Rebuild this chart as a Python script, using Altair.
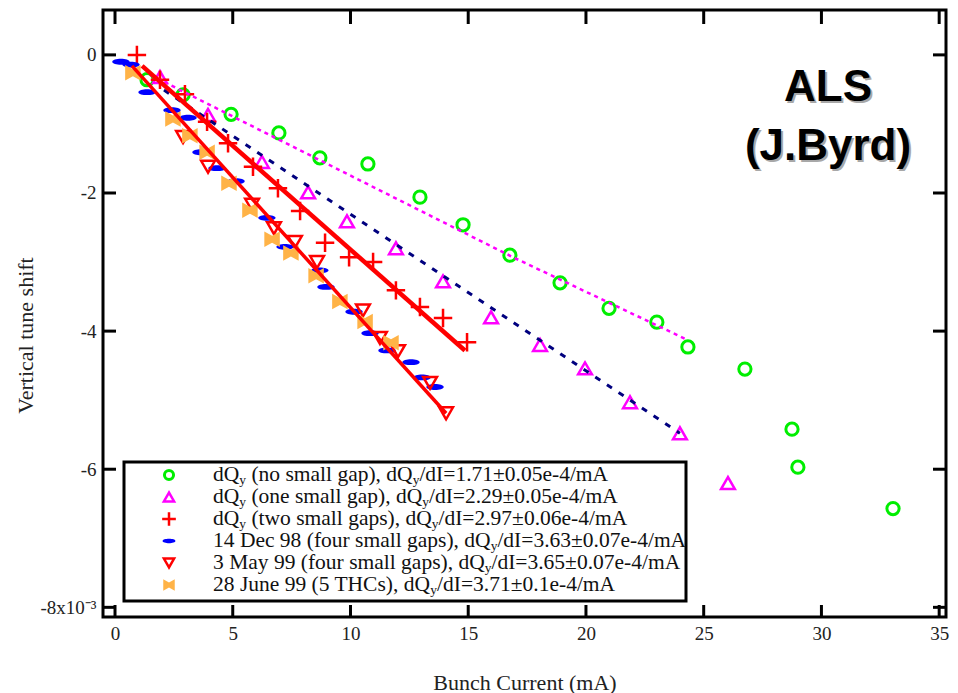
import altair as alt
import pandas as pd

# ---------------- data (x: bunch current mA, y: tune shift in 1e-3) ----------------
green_x = [1.36, 2.89, 4.93, 6.96, 8.70, 10.74, 12.95, 14.78, 16.77, 18.90, 20.98, 23.01, 24.33, 26.75, 28.75, 29.00, 33.04]
green_y = [-0.36, -0.58, -0.86, -1.13, -1.49, -1.58, -2.06, -2.46, -2.90, -3.30, -3.67, -3.87, -4.23, -4.55, -5.42, -5.97, -6.57]
green_fit_x = [1.49, 16.90, 24.33]
green_fit_y = [-0.29, -2.93, -4.13]

mag_x = [1.91, 3.95, 6.24, 8.20, 9.85, 11.93, 13.93, 15.97, 18.05, 19.96, 21.87, 23.99, 26.03]
mag_y = [-0.32, -0.87, -1.55, -1.99, -2.41, -2.80, -3.28, -3.80, -4.20, -4.54, -5.03, -5.48, -6.20]
mag_fit_x = [2.08, 23.99]
mag_fit_y = [-0.51, -5.48]

plus_x = [0.93, 1.91, 2.97, 3.91, 4.80, 5.86, 6.92, 7.86, 8.92, 9.94, 10.96, 11.93, 12.95, 13.93, 14.95]
plus_y = [0.00, -0.36, -0.57, -0.97, -1.28, -1.62, -1.93, -2.26, -2.72, -2.93, -3.00, -3.41, -3.65, -3.81, -4.16]
plus_fit_x = [1.15, 14.86]
plus_fit_y = [-0.16, -4.28]

dec_x = [0.25, 0.68, 1.36, 2.42, 3.10, 3.65, 4.33, 5.14, 6.45, 7.22, 8.70, 8.96, 10.15, 10.83, 11.55, 12.57, 13.04, 13.59]
dec_y = [-0.10, -0.14, -0.54, -0.80, -0.91, -1.41, -1.64, -1.83, -2.36, -2.78, -3.12, -3.36, -3.72, -4.03, -4.28, -4.45, -4.67, -4.81]

may_x = [2.89, 3.95, 5.82, 6.75, 7.64, 8.58, 10.53, 11.25, 12.02, 13.38, 14.06]
may_y = [-1.19, -1.62, -2.17, -2.51, -2.71, -3.00, -3.70, -4.10, -4.29, -4.75, -5.19]
may_fit_x = [0.72, 14.06]
may_fit_y = [-0.16, -5.19]

june_x = [0.76, 2.46, 3.18, 3.91, 4.84, 5.73, 6.67, 7.47, 8.54, 9.55, 10.62, 11.72]
june_y = [-0.26, -0.93, -1.17, -1.41, -1.86, -2.25, -2.67, -2.87, -3.20, -3.57, -3.86, -4.17]

# "_y" marks a subscript y
legend_labels = [
    "dQ_y (no small gap), dQ_y/dI=1.71±0.05e-4/mA",
    "dQ_y (one small gap), dQ_y/dI=2.29±0.05e-4/mA",
    "dQ_y (two small gaps), dQ_y/dI=2.97±0.06e-4/mA",
    "14 Dec 98 (four small gaps), dQ_y/dI=3.63±0.07e-4/mA",
    "3 May 99 (four small gaps), dQ_y/dI=3.65±0.07e-4/mA",
    "28 June 99 (5 THCs), dQ_y/dI=3.71±0.1e-4/mA",
]

x_ticks = [0, 5, 10, 15, 20, 25, 30, 35]
y_ticks = [0, -2, -4, -6, -8]

# ---------------- layout ----------------
W, H = 843, 607
SERIF = "Liberation Serif"
xs = alt.Scale(domain=[-0.51, 35.29], nice=False, zero=False)
ys = alt.Scale(domain=[-8.14, 0.65], nice=False, zero=False)

x_axis = alt.Axis(
    values=x_ticks, ticks=False, domain=False, grid=False, title="Bunch Current (mA)",
    labelFont=SERIF, labelFontSize=19, labelColor="#222", labelPadding=7,
    titleFont=SERIF, titleFontSize=22, titleFontWeight="normal", titleColor="#222",
    titleY=65, titleBaseline="middle")
y_axis = alt.Axis(
    values=y_ticks, ticks=False, domain=False, grid=False, title="Vertical tune shift",
    labelExpr="datum.value == -8 ? '-8x10⁻³' : (datum.value < 0 ? '-' + abs(datum.value) : '' + datum.value)",
    labelFont=SERIF, labelFontSize=19, labelColor="#222", labelPadding=7,
    titleFont=SERIF, titleFontSize=22, titleFontWeight="normal", titleColor="#222",
    titleX=-78, titleY=325, titleAlign="center", titleBaseline="middle", titleAngle=270)

X = alt.X("x:Q", scale=xs, axis=x_axis)
Y = alt.Y("y:Q", scale=ys, axis=y_axis)

DASH_PATH = "M-1,0 C-1,-0.45 1,-0.45 1,0 C1,0.45 -1,0.45 -1,0 Z"
PLUS_PATH = "M-1,0 L1,0 M0,-1 L0,1"
BOW_PATH = "M-1,-1 L0,-0.45 L1,-1 L1,1 L0,0.45 L-1,1 Z"

styles = [
    dict(shape="circle", filled=False, color="#00ee00", size=150, strokeWidth=3),
    dict(shape="triangle-up", filled=False, color="#ff00ff", size=190, strokeWidth=2.5),
    dict(shape=PLUS_PATH, filled=False, color="#ff0000", size=340, strokeWidth=2.5),
    dict(shape=DASH_PATH, filled=True, color="#0000ff", size=300, strokeWidth=0),
    dict(shape="triangle-down", filled=False, color="#ff0000", size=190, strokeWidth=2.5),
    dict(shape=BOW_PATH, filled=True, color="#ffb347", size=240, strokeWidth=0),
]
series = [(green_x, green_y), (mag_x, mag_y), (plus_x, plus_y), (dec_x, dec_y), (may_x, may_y), (june_x, june_y)]

# Times/Liberation Serif advance widths (1/1000 em) for legend subscript placement
TW = {" ": 250, "(": 333, ")": 333, ",": 250, "-": 333, ".": 250, "/": 278, "=": 564, "±": 549,
      "A": 722, "C": 667, "D": 722, "H": 722, "I": 333, "J": 389, "M": 889, "Q": 722, "S": 556, "T": 611,
      "a": 444, "c": 444, "d": 500, "e": 444, "f": 333, "g": 500, "i": 278, "l": 278, "m": 778,
      "n": 500, "o": 500, "p": 500, "r": 333, "s": 389, "t": 278, "u": 500, "w": 722, "y": 500, "x": 500}


def text_w(s, fs):
    return sum(TW.get(c, 500) for c in s) * fs / 1000.0


layers = []

# axes carrier
axis_df = pd.DataFrame({"x": [0.0], "y": [0.0]})
layers.append(alt.Chart(axis_df).mark_point(opacity=0).encode(x=X, y=Y))

# inward ticks
xt = pd.DataFrame({"x": x_ticks})
yt = pd.DataFrame({"y": y_ticks})
layers.append(alt.Chart(xt).mark_rule(color="black", strokeWidth=3).encode(
    x=X, y=alt.value(H), y2=alt.value(H - 12)))
layers.append(alt.Chart(xt).mark_rule(color="black", strokeWidth=3).encode(
    x=X, y=alt.value(0), y2=alt.value(14)))
layers.append(alt.Chart(yt).mark_rule(color="black", strokeWidth=3).encode(
    y=Y, x=alt.value(0), x2=alt.value(13)))
layers.append(alt.Chart(yt).mark_rule(color="black", strokeWidth=3).encode(
    y=Y, x=alt.value(W), x2=alt.value(W - 13)))

# markers
for (sx, sy), st in zip(series, styles):
    df = pd.DataFrame({"x": sx, "y": sy})
    layers.append(alt.Chart(df).mark_point(opacity=1, **st).encode(x=X, y=Y))

# fit lines
fits = [
    (green_fit_x, green_fit_y, dict(color="#ff00ff", strokeWidth=2.5, strokeDash=[4, 4])),
    (mag_fit_x, mag_fit_y, dict(color="#00007f", strokeWidth=3, strokeDash=[6, 8])),
    (plus_fit_x, plus_fit_y, dict(color="#ff0000", strokeWidth=4.5)),
    (may_fit_x, may_fit_y, dict(color="#ff0000", strokeWidth=3.5)),
]
for fx, fy, st in fits:
    df = pd.DataFrame({"x": fx, "y": fy})
    layers.append(alt.Chart(df).mark_line(**st).encode(x=X, y=Y))

# legend box
one = pd.DataFrame({"a": [0]})
layers.append(alt.Chart(one).mark_rect(fill="white", stroke="black", strokeWidth=3).encode(
    x=alt.value(21), x2=alt.value(583), y=alt.value(452), y2=alt.value(591)))
FS = 21.5
SUB = 13.5
for i, (lab, st) in enumerate(zip(legend_labels, styles)):
    ry = 465 + 22 * i
    s2 = dict(st)
    s2["size"] = st["size"] * 0.55
    layers.append(alt.Chart(one).mark_point(opacity=1, **s2).encode(x=alt.value(66), y=alt.value(ry)))
    parts = lab.split("_y")
    cx = 110.0
    for j, part in enumerate(parts):
        lead = len(part) - len(part.lstrip(" "))
        cx += text_w(" " * lead, FS)
        body = part.lstrip(" ")
        if body:
            layers.append(alt.Chart(one).mark_text(text=body, font=SERIF, fontSize=FS,
                                                   align="left", baseline="middle", color="#111").encode(
                x=alt.value(cx), y=alt.value(ry)))
        cx += text_w(body, FS)
        if j < len(parts) - 1:
            layers.append(alt.Chart(one).mark_text(text="y", font=SERIF, fontSize=SUB, align="left",
                                                   baseline="middle", color="#111").encode(
                x=alt.value(cx), y=alt.value(ry + 5)))
            cx += text_w("y", SUB)

# ALS annotation with shadow
for txt, ty in [("ALS", 78), ("(J.Byrd)", 137)]:
    layers.append(alt.Chart(one).mark_text(text=txt, font="Liberation Sans", fontWeight="bold",
                                           fontSize=44, align="center", baseline="middle",
                                           color="#a8a8a8", dx=2, dy=2).encode(
        x=alt.value(725), y=alt.value(ty)))
    layers.append(alt.Chart(one).mark_text(text=txt, font="Liberation Sans", fontWeight="bold",
                                           fontSize=44, align="center", baseline="middle",
                                           color="black").encode(
        x=alt.value(725), y=alt.value(ty)))

chart = alt.layer(*layers).properties(
    width=W, height=H,
    background="white",
    padding={"left": 95, "top": 2, "right": 4, "bottom": 76},
    autosize=alt.AutoSizeParams(type="none"),
).configure_view(stroke="black", strokeWidth=3)

chart.save("out.html", embed_options={"renderer": "svg", "actions": False})
